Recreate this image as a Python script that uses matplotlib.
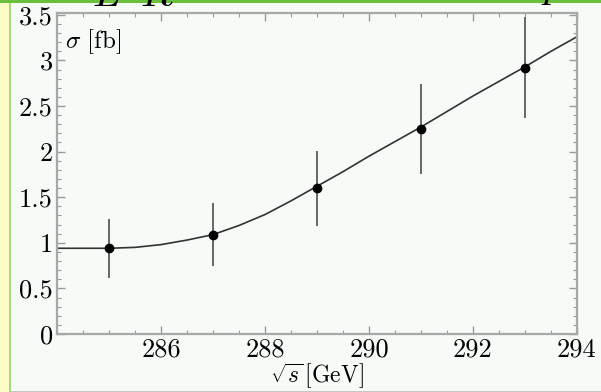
import numpy as np
import matplotlib as mpl
mpl.use('Agg')
import matplotlib.pyplot as plt
from matplotlib.ticker import MultipleLocator

mpl.rcParams['font.family'] = 'cmr10'
mpl.rcParams['mathtext.fontset'] = 'cm'
mpl.rcParams['axes.formatter.use_mathtext'] = True

# measured points (sqrt(s) in GeV, sigma in fb)
sqrt_s = [285, 287, 289, 291, 293]
sigma = [0.94, 1.09, 1.60, 2.25, 2.92]
err_lo = [0.63, 0.76, 1.19, 1.77, 2.38]
err_hi = [1.25, 1.43, 2.00, 2.73, 3.46]

# theory curve
curve_x = [284.0, 284.5, 285.0, 285.5, 286.0, 286.5, 287.0, 287.5, 288.0, 288.5,
           289.0, 289.5, 290.0, 290.5, 291.0, 291.5, 292.0, 292.5, 293.0, 293.5, 294.0]
curve_y = [0.94, 0.94, 0.94, 0.95, 0.98, 1.03, 1.09, 1.19, 1.31, 1.46,
           1.62, 1.78, 1.95, 2.11, 2.27, 2.44, 2.61, 2.77, 2.93, 3.10, 3.26]

x_ticks = [286, 288, 290, 292, 294]
y_ticks = [0, 0.5, 1, 1.5, 2, 2.5, 3, 3.5]
y_ticklabels = ['0', '0.5', '1', '1.5', '2', '2.5', '3', '3.5']

fig = plt.figure(figsize=(6.01, 3.92), dpi=100)
fig.patch.set_facecolor('#f6fbf7')

# slide decoration: yellow strip, green borders
fig.patches.append(plt.Rectangle((0, 0), 9/601, 1, transform=fig.transFigure,
                                 facecolor='#fcfcc4', edgecolor='none'))
fig.patches.append(plt.Rectangle((9/601, 0), 2/601, 1, transform=fig.transFigure,
                                 facecolor='#a8d878', edgecolor='none'))
fig.patches.append(plt.Rectangle((0, 1 - 2.5/392), 1, 2.5/392, transform=fig.transFigure,
                                 facecolor='#6cbf3c', edgecolor='none'))
fig.patches.append(plt.Rectangle((11/601, 0), 1, 1.5/392, transform=fig.transFigure,
                                 facecolor='#c8c8c8', edgecolor='none'))

# slide title sits above the crop, only its lower edge shows
fig.text(92/601, 1 - 6/392, r'$L$', fontsize=30, va='baseline', ha='left')
fig.text(140/601, 1 - 6/392, r'$R$', fontsize=30, va='baseline', ha='left')
fig.text(541/601, 1 + 3/392, r'$p$', fontsize=30, va='baseline', ha='left')

ax = fig.add_axes([57/601, 1 - 334/392, 520/601, 321/392])
ax.set_facecolor('#f6fbf7')

ax.plot(curve_x, curve_y, color='#333333', linewidth=1.2, zorder=2)
for x, lo, hi in zip(sqrt_s, err_lo, err_hi):
    ax.plot([x, x], [lo, hi], color='#666666', linewidth=1.4, zorder=3)
ax.plot(sqrt_s, sigma, 'o', color='black', markersize=6, zorder=4)

ax.set_xlim(284, 294)
ax.set_ylim(0, 3.52)
ax.xaxis.set_minor_locator(MultipleLocator(0.5))
ax.yaxis.set_minor_locator(MultipleLocator(0.1))
ax.set_xticks(x_ticks)
ax.set_xticklabels([str(t) for t in x_ticks])
ax.set_yticks(y_ticks)
ax.set_yticklabels(y_ticklabels)

ax.tick_params(which='both', direction='in', top=True, right=True,
               color='#9a9a9a', labelsize=19, labelcolor='black')
ax.tick_params(which='major', length=6, width=1, pad=3)
ax.tick_params(which='minor', length=3, width=0.8)
for sp in ax.spines.values():
    sp.set_color('#a8a8a8')
    sp.set_linewidth(1.6)

ax.set_xlabel(r'$\sqrt{s}\,[\mathrm{GeV}]$', fontsize=17, labelpad=0)
ax.text(0.015, 0.91, r'$\sigma\ [\mathrm{fb}]$', transform=ax.transAxes,
        fontsize=18, va='center', ha='left')

fig.savefig('out.png', dpi=100, facecolor=fig.get_facecolor())
